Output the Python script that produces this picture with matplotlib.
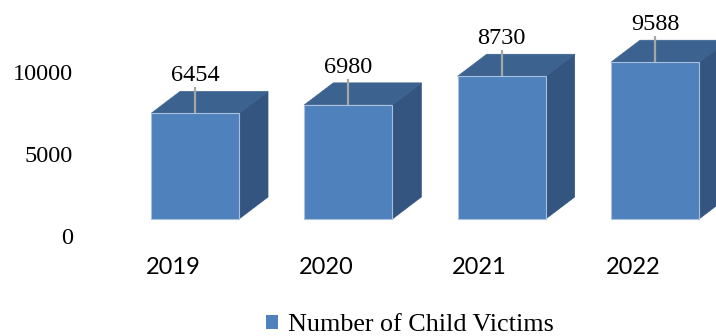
import matplotlib
matplotlib.use("Agg")
import matplotlib.pyplot as plt
from matplotlib.patches import Polygon, Patch
from matplotlib.transforms import ScaledTranslation

# Data
years = ["2019", "2020", "2021", "2022"]
victims = [6454, 6980, 8730, 9588]
y_ticks = [0, 5000, 10000]
series_name = "Number of Child Victims"

# Style
W, H, DPI = 716, 336, 100
FRONT = "#4f81bd"
TOP = "#3c6390"
SIDE = "#33557f"
EDGE = "#a9c1df"
LEADER = "#a6a6a6"
BAR_WIDTH = 0.574          # fraction of category spacing
DEPTH_PX = (29, 22)        # oblique depth offset of the boxes, in pixels
SERIF = ["Liberation Serif", "DejaVu Serif"]
SANS = ["Lato", "Open Sans", "DejaVu Sans"]

fig = plt.figure(figsize=(W / DPI, H / DPI), dpi=DPI)
ax_left, ax_bottom = 90, 117
ax = fig.add_axes([ax_left / W, ax_bottom / H, (W - ax_left) / W, (H - ax_bottom) / H])
px_per_cat = 153.33
px_per_val = 16.35 / 1000
x0_px = 195 - ax_left
ax.set_xlim(-x0_px / px_per_cat, (W - ax_left - x0_px) / px_per_cat)
ax.set_ylim(0, (H - ax_bottom) / px_per_val)
for s in ax.spines.values():
    s.set_visible(False)

dx = DEPTH_PX[0] / px_per_cat
dy = DEPTH_PX[1] / px_per_val
hw = BAR_WIDTH / 2

for i, v in enumerate(victims):
    l, r = i - hw, i + hw
    front = Polygon([(l, 0), (r, 0), (r, v), (l, v)], closed=True,
                    facecolor=FRONT, edgecolor=EDGE, linewidth=0.8, zorder=3)
    top = Polygon([(l, v), (r, v), (r + dx, v + dy), (l + dx, v + dy)], closed=True,
                  facecolor=TOP, edgecolor=TOP, linewidth=0.5, zorder=2)
    side = Polygon([(r, 0), (r + dx, dy), (r + dx, v + dy), (r, v)], closed=True,
                   facecolor=SIDE, edgecolor=SIDE, linewidth=0.5, zorder=2)
    for p in (side, top, front):
        p.set_clip_on(False)
        ax.add_patch(p)
    # leader line and value label
    lead = 26 / px_per_val
    ax.plot([i, i], [v, v + lead], color=LEADER, lw=1.6, zorder=4,
            solid_capstyle="butt", clip_on=False)
    ax.text(i, v + 32 / px_per_val, f"{v}", ha="center", va="baseline",
            fontsize=17.5, family=SERIF, color="black", zorder=5)

# Value axis labels (sit on the back wall, a little below the front baseline)
ax.set_yticks(y_ticks)
ax.set_yticklabels([str(t) for t in y_ticks], family=SERIF, fontsize=17.5)
ax.tick_params(axis="y", length=0, pad=12.2)
shift_y = ScaledTranslation(0, -17 / DPI, fig.dpi_scale_trans)
for lab in ax.get_yticklabels():
    lab.set_transform(lab.get_transform() + shift_y)

# Category labels
ax.set_xticks(range(len(years)))
ax.set_xticklabels(years, family=SANS, fontsize=17)
ax.tick_params(axis="x", length=0, pad=27)
shift_x = ScaledTranslation(-22 / DPI, 0, fig.dpi_scale_trans)
for lab in ax.get_xticklabels():
    lab.set_transform(lab.get_transform() + shift_x)

# Legend
handle = Patch(facecolor=FRONT, edgecolor="none")
fig.legend([handle], [series_name], loc="lower left",
           bbox_to_anchor=(266 / W, 0.0), frameon=False,
           prop={"family": SERIF, "size": 18.8},
           handlelength=0.46, handleheight=0.46, handletextpad=0.38,
           borderpad=0.0, borderaxespad=0.0)

fig.savefig("out.png", dpi=DPI)
